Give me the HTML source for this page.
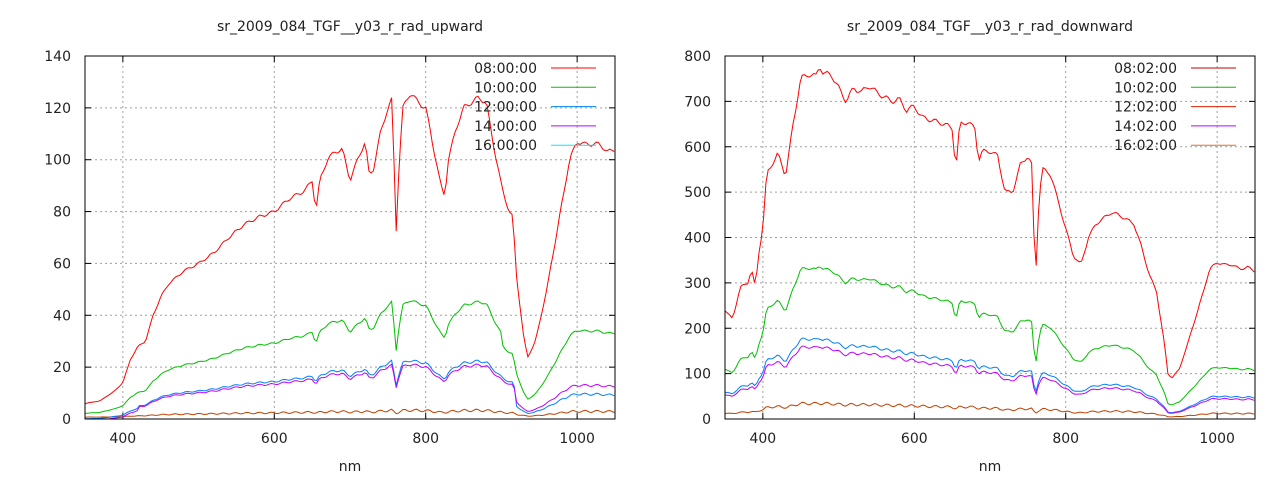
<!DOCTYPE html>
<html><head><meta charset="utf-8"><style>
html,body{margin:0;padding:0;background:#fff;}
svg{display:block;font-family:"DejaVu Sans","Liberation Sans",sans-serif;}
</style></head><body>
<svg id="s" width="1280" height="480" xmlns="http://www.w3.org/2000/svg"></svg>
<script>
const S=document.getElementById('s');let h='';
function interp(pts,x){for(let i=0;i<pts.length-1;i++){if(x>=pts[i][0]&&x<=pts[i+1][0]){const t=(x-pts[i][0])/(pts[i+1][0]-pts[i][0]);return pts[i][1]+t*(pts[i+1][1]-pts[i][1]);}}return pts[pts.length-1][1];}
function plot(X0,title,ymax,ystep,legend,red,fns){
 const L=X0,R=X0+530,T=56,B=419;
 const px=v=>L+(v-350)/700*(R-L),py=v=>B-v/ymax*(B-T);
 h+=`<text x="${(L+R)/2}" y="31" font-size="14" text-anchor="middle" fill="#222">${title}</text>`;
 for(let v=0;v<=ymax;v+=ystep){const y=py(v);
  if(v>0&&v<ymax)h+=`<line x1="${L}" x2="${R}" y1="${y}" y2="${y}" stroke="#a0a0a0" stroke-dasharray="2,3"/>`;
  h+=`<line x1="${L}" x2="${L+6}" y1="${y}" y2="${y}" stroke="#000"/><line x1="${R-6}" x2="${R}" y1="${y}" y2="${y}" stroke="#000"/>`;
  h+=`<text x="${L-14}" y="${y+5}" font-size="14" text-anchor="end" fill="#222">${v}</text>`;}
 for(let v=400;v<=1000;v+=200){const x=px(v);
  h+=`<line x1="${x}" x2="${x}" y1="${T}" y2="${B}" stroke="#a0a0a0" stroke-dasharray="2,3"/>`;
  h+=`<line x1="${x}" x2="${x}" y1="${B}" y2="${B-6}" stroke="#000"/><line x1="${x}" x2="${x}" y1="${T}" y2="${T+6}" stroke="#000"/>`;
  h+=`<text x="${x}" y="${B+24}" font-size="14" text-anchor="middle" fill="#222">${v}</text>`;}
 h+=`<text x="${(L+R)/2}" y="${B+52}" font-size="14" text-anchor="middle" fill="#222">nm</text>`;
 fns.forEach(f=>{let d='';for(let nm=350;nm<=1050;nm+=3){const r=interp(red,nm);let v=f.fn(r,nm)+(Math.sin(nm*1.7)*0.004*r*(f.n||1));d+=(d?'L':'M')+px(nm).toFixed(1)+','+py(Math.max(0,v)).toFixed(1);}
  h+=`<path d="${d}" fill="none" stroke="${f.c}" stroke-width="1"/>`;});
 legend.forEach((l,i)=>{const y=68+i*19.3;
  h+=`<text x="${R-78}" y="${y+5}" font-size="14" text-anchor="end" fill="#222">${l[0]}</text><line x1="${R-64}" x2="${R-19}" y1="${y}" y2="${y}" stroke="${l[1]}"/>`;});
 h+=`<rect x="${L}" y="${T}" width="${R-L}" height="${B-T}" fill="none" stroke="#000"/>`;
}
const up=[[350,6],[370,7],[390,11],[400,14],[410,23],[420,28],[430,30],[440,40],[450,47],[460,52],[480,57],[500,60],[520,64],[540,70],[560,75],[580,78],[600,80],[620,85],[640,88],[650,92],[655,80],[660,92],[670,100],[680,103],[690,104],[700,92],[710,100],[720,107],[725,95],[730,95],[740,110],[750,120],[755,123],[758,100],[760,66],[765,100],[770,120],[780,126],[790,122],[800,120],[810,105],[820,90],[825,86],[830,100],[840,112],[850,120],[860,122],[870,124],[880,122],[890,105],[900,90],[910,80],[915,78],[920,55],[930,30],[935,24],[945,30],[960,50],[975,75],[990,100],[1000,107],[1010,106],[1030,106],[1040,103],[1050,104]];
plot(85,"sr_2009_084_TGF__y03_r_rad_upward",140,20,[["08:00:00","#ff0000"],["10:00:00","#00c000"],["12:00:00","#0080ff"],["14:00:00","#c000ff"],["16:00:00","#00eeee"]],up,[
 {c:"#c04000",fn:(r,n)=>r*0.022+0.6,n:0},
 {c:"#0080ff",fn:(r,n)=>r*(n<920?0.18:0.09)-(n<420?1:0)},
 {c:"#c000ff",fn:(r,n)=>r*(n<920?0.168:0.122)-(n<420?1.5:0)},
 {c:"#00c000",fn:(r,n)=>r*(n<900?0.365:0.32)},
 {c:"#ff0000",fn:(r,n)=>r,n:2}]);
const dn=[[350,240],[360,220],[370,290],[380,300],[385,330],[390,290],[395,370],[400,420],[405,540],[415,570],[420,585],[430,535],[440,650],[450,750],[460,760],[470,755],[475,780],[480,760],[490,760],[500,730],[510,700],[520,730],[530,720],[540,735],[550,720],[560,710],[570,700],[580,705],[590,680],[600,690],[610,665],[620,660],[640,650],[650,640],[655,550],[660,650],[670,655],[680,640],[685,570],[690,590],[700,590],[710,580],[720,500],[730,500],[740,560],[750,580],[755,560],[760,300],[765,500],[770,550],[780,540],[790,480],[800,420],[810,360],[820,340],[830,400],[840,430],[860,455],[870,450],[880,440],[890,430],[900,380],[910,320],[920,280],[930,170],[935,100],[940,90],[950,110],[960,160],[980,270],[990,330],[1000,345],[1010,340],[1020,340],[1030,330],[1040,335],[1050,325]];
const lr=(n,a,b)=>a+(b-a)*Math.min(1,Math.max(0,(n-350)/650));
plot(725,"sr_2009_084_TGF__y03_r_rad_downward",800,100,[["08:02:00","#c00000"],["10:02:00","#00c000"],["12:02:00","#e02000"],["14:02:00","#c000ff"],["16:02:00","#e07020"]],dn,[
 {c:"#c04000",fn:(r,n)=>r*lr(n,0.045,0.03)+2,n:0},
 {c:"#0080ff",fn:(r,n)=>r*lr(n,0.25,0.145)},
 {c:"#c000ff",fn:(r,n)=>r*lr(n,0.225,0.13)},
 {c:"#00c000",fn:(r,n)=>r*lr(n,0.46,0.33)},
 {c:"#ff0000",fn:(r,n)=>r,n:2}]);
S.innerHTML=h;
</script>
</body></html>
